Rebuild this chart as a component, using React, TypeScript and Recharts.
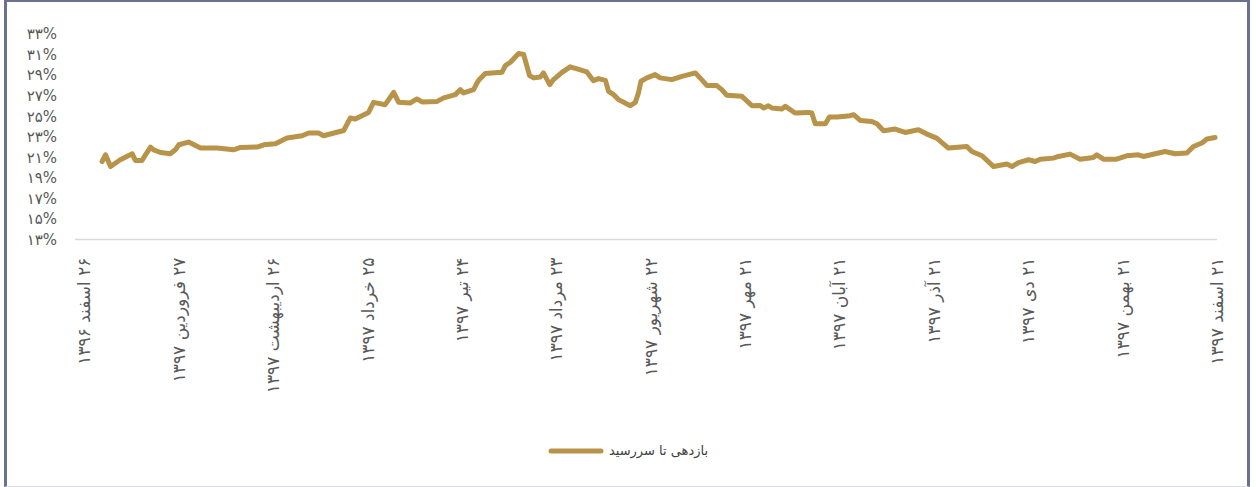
import React from "react";
import { LineChart, Line, XAxis, YAxis, Legend } from "recharts";

// day offsets from ۲۶ اسفند ۱۳۹۶
const days: number[] = [
  5.6, 6.7, 8.3, 11.4, 15.2, 16.2, 18.3, 19.4, 21.0, 22.0, 24.2, 27.3, 28.9, 30.0, 33.1, 36.9, 42.2, 47.4, 49.6, 54.9,
  57.0, 60.7, 64.4, 69.2, 71.3, 74.5, 76.0, 82.4, 84.5, 86.1, 90.3, 91.9, 95.6, 96.7, 98.3, 99.9, 103.6, 105.7, 107.3, 112.1,
  114.2, 117.9, 119.5, 120.5, 123.7, 124.8, 125.3, 127.4, 132.7, 133.8, 135.4, 138.0, 139.6, 141.5, 142.8, 144.9, 145.9, 147.9, 149.1, 151.8,
  154.4, 156.6, 159.7, 161.8, 163.4, 165.6, 166.6, 168.2, 169.8, 173.5, 175.1, 176.1, 176.9, 178.8, 181.4, 183.0, 186.7, 189.9, 194.2, 195.7,
  197.9, 201.0, 202.6, 204.2, 209.0, 212.2, 214.8, 215.9, 217.4, 218.5, 221.7, 222.8, 225.9, 230.2, 231.2, 232.3, 235.5, 236.8, 239.2, 243.4,
  244.5, 246.6, 250.3, 251.9, 254.0, 257.7, 260.9, 265.1, 267.8, 270.9, 274.6, 280.5, 282.1, 285.3, 289.0, 293.2, 294.8, 296.9, 300.1, 302.2,
  303.8, 308.0, 309.6, 313.3, 316.5, 320.7, 321.8, 323.9, 328.1, 331.3, 335.0, 336.6, 343.5, 346.7, 350.4, 352.5, 355.2, 356.8, 359.4,
];

// بازدهی تا سررسید (%)
const yieldValues: number[] = [
  20.59, 21.24, 20.10, 20.76, 21.34, 20.69, 20.69, 21.24, 22.0, 21.73, 21.47, 21.34, 21.73, 22.22, 22.48, 21.90, 21.90, 21.73, 21.96, 22.0,
  22.22, 22.32, 22.87, 23.10, 23.36, 23.36, 23.10, 23.61, 24.82, 24.73, 25.37, 26.35, 26.12, 26.61, 27.32, 26.35, 26.29, 26.68, 26.39, 26.44,
  26.78, 27.10, 27.59, 27.26, 27.59, 28.24, 28.49, 29.15, 29.27, 29.93, 30.25, 31.10, 31.0, 28.95, 28.73, 28.82, 29.21, 28.07, 28.56, 29.27,
  29.80, 29.60, 29.31, 28.46, 28.66, 28.49, 27.42, 27.10, 26.61, 26.02, 26.35, 27.26, 28.40, 28.73, 29.05, 28.73, 28.56, 28.88, 29.21, 28.73,
  27.98, 27.98, 27.59, 27.03, 26.93, 26.02, 26.05, 25.80, 26.02, 25.80, 25.70, 25.96, 25.31, 25.37, 25.31, 24.27, 24.27, 24.92, 24.92, 25.05,
  25.15, 24.59, 24.49, 24.27, 23.59, 23.75, 23.42, 23.68, 23.26, 22.87, 21.90, 22.05, 21.57, 21.15, 20.10, 20.34, 20.10, 20.49, 20.76, 20.59,
  20.82, 20.92, 21.08, 21.31, 20.82, 20.98, 21.24, 20.82, 20.82, 21.15, 21.24, 21.08, 21.57, 21.34, 21.41, 22.05, 22.39, 22.78, 22.93,
];

const tickDays: number[] = [0, 30, 60, 90, 120, 150, 180, 210, 240, 270, 300, 330, 360];
const tickLabels: string[] = [
  "۲۶ اسفند ۱۳۹۶",
  "۲۷ فروردین ۱۳۹۷",
  "۲۶ اردیبهشت ۱۳۹۷",
  "۲۵ خرداد ۱۳۹۷",
  "۲۴ تیر ۱۳۹۷",
  "۲۳ مرداد ۱۳۹۷",
  "۲۲ شهریور ۱۳۹۷",
  "۲۱ مهر ۱۳۹۷",
  "۲۱ آبان ۱۳۹۷",
  "۲۱ آذر ۱۳۹۷",
  "۲۱ دی ۱۳۹۷",
  "۲۱ بهمن ۱۳۹۷",
  "۲۱ اسفند ۱۳۹۷",
];
const yTicks: number[] = [13, 15, 17, 19, 21, 23, 25, 27, 29, 31, 33];
const seriesName = "بازدهی تا سررسید";

const toPersian = (s: string) => s.replace(/[0-9]/g, (d) => "۰۱۲۳۴۵۶۷۸۹"[Number(d)]);

const data = days.map((d, i) => ({ day: d, value: yieldValues[i] }));

const GOLD = "#B8934A";
const FONT = "'DejaVu Sans', sans-serif";

const XTick = (props: any) => {
  const { x, y, payload } = props;
  const idx = tickDays.indexOf(payload.value);
  const label = idx >= 0 ? tickLabels[idx] : "";
  const ty = y + 18;
  return (
    <text
      x={x}
      y={ty}
      transform={`rotate(-90, ${x}, ${ty})`}
      direction="rtl"
      style={{ direction: "rtl", unicodeBidi: "embed" }}
      textAnchor="start"
      dominantBaseline="central"
      fill="#595959"
      fontSize={17}
      fontFamily={FONT}
    >
      {label}
    </text>
  );
};

const LegendContent = () => (
  <div
    style={{
      display: "flex",
      justifyContent: "center",
      alignItems: "center",
      fontFamily: FONT,
      fontSize: 13,
      color: "#404040",
    }}
  >
    <svg width={56} height={8} style={{ marginRight: 5 }}>
      <line x1={3} y1={4} x2={53} y2={4} stroke={GOLD} strokeWidth={5} strokeLinecap="round" />
    </svg>
    <span>{seriesName}</span>
  </div>
);

export default function App() {
  return (
    <div style={{ position: "absolute", left: 0, top: 0, width: 1256, height: 487, background: "#fff" }}>
      <div
        style={{
          position: "absolute",
          left: 4,
          top: 0,
          width: 1246,
          height: 487,
          boxSizing: "border-box",
          borderLeft: "3px solid #6c7190",
          borderRight: "3px solid #6c7190",
          borderTop: "2px solid #6c7190",
          borderBottom: "1px solid #dcdce4",
        }}
      />
      <div style={{ position: "absolute", left: 0, top: 0 }}>
        <LineChart
          width={1256}
          height={487}
          data={data}
          margin={{ top: 34, right: 39, left: 15, bottom: 107.5 }}
        >
          <XAxis
            dataKey="day"
            type="number"
            domain={[-3, 360]}
            ticks={tickDays}
            interval={0}
            height={140}
            tickLine={false}
            tickSize={0}
            tickMargin={0}
            axisLine={{ stroke: "#d9d9d9", strokeWidth: 1.5 }}
            tick={<XTick />}
          />
          <YAxis
            type="number"
            domain={[13, 33]}
            ticks={yTicks}
            interval={0}
            width={60}
            axisLine={false}
            tickLine={false}
            tickSize={0}
            tickMargin={18}
            tickFormatter={(v: number) => toPersian(String(v)) + "%"}
            tick={{ fill: "#595959", fontSize: 15, fontFamily: FONT }}
          />
          <Legend
            verticalAlign="middle"
            align="center"
            layout="horizontal"
            wrapperStyle={{ top: 443, left: 0, width: 1256 }}
            content={<LegendContent />}
          />
          <Line
            type="linear"
            dataKey="value"
            name={seriesName}
            stroke={GOLD}
            strokeWidth={5}
            strokeLinejoin="round"
            strokeLinecap="round"
            dot={false}
            isAnimationActive={false}
          />
        </LineChart>
      </div>
    </div>
  );
}
